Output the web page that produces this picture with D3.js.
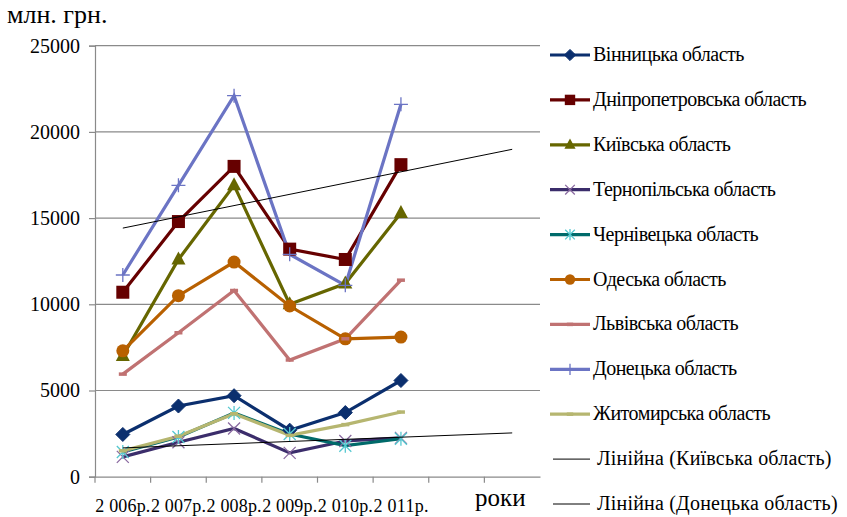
<!DOCTYPE html>
<html><head><meta charset="utf-8">
<script src="https://cdn.jsdelivr.net/npm/d3@7"></script>
</head>
<body style="margin:0;padding:0;background:#fff">
<svg id="c" width="847" height="517" style="display:block"></svg>
<script>
// ---- data ----
const categories = ["2006","2007","2008","2009","2010","2011","f1","f2"];
const xLabels = ["2 006р.","2 007р.","2 008р.","2 009р.","2 010р.","2 011р.","",""];
const yTicks = [0,5000,10000,15000,20000,25000];
const seriesNames = ["Вінницька область","Дніпропетровська область","Київська область","Тернопільська область","Чернівецька область","Одеська область","Львівська область","Донецька область","Житомирська область"];
const vinnytsia      = [2450, 4100, 4700, 2700, 3720, 5580];
const dnipro         = [10700,14800,18000,13200,12600,18100];
const kyiv           = [7000, 12600,16900,10000,11200,15300];
const ternopil       = [1150, 2000, 2800, 1380, 2070, 2250];
const chernivtsi     = [1430, 2300, 3700, 2480, 1800, 2200];
const odesa          = [7300, 10500,12450,9900, 8000, 8100];
const lviv           = [5950, 8350, 10800,6770, 8000, 11400];
const donetsk        = [11700,16900,22100,12900,11100,21600];
const zhytomyr       = [1500, 2350, 3650, 2400, 3020, 3750];
const trendNames = ["Лінійна (Київська область)","Лінійна (Донецька область)"];
const trendKyivEnds = [1670, 2540];      // at first and last category
const trendDonetskEnds = [14420, 18990];

const seriesValues = [vinnytsia,dnipro,kyiv,ternopil,chernivtsi,odesa,lviv,donetsk,zhytomyr];
const styles = [
  {color:"#0b2f6e", marker:"diamond", mc:"#0b2f6e"},
  {color:"#660000", marker:"square", mc:"#660000"},
  {color:"#666600", marker:"triangle", mc:"#666600"},
  {color:"#3b2d6b", marker:"x", mc:"#8a6aa0"},
  {color:"#006a6a", marker:"star", mc:"#55c8d0"},
  {color:"#b86000", marker:"circle", mc:"#b86000"},
  {color:"#c07272", marker:"dash", mc:"#c07272"},
  {color:"#6b74c4", marker:"plus", mc:"#6b74c4"},
  {color:"#b6b670", marker:"dash", mc:"#b6b670"}
];
const FONT = "'Liberation Serif', monospace";
function txt(sel, size){ return sel.attr("font-family","Liberation Serif").style("font-family",FONT).attr("font-size",size); }

// ---- layout ----
const svg = d3.select("#c");
const L = 95, R = 540, T = 45.7, B = 476.7;
const x = d3.scaleBand().domain(categories).range([L,R]);
const cx = c => x(c) + x.bandwidth()/2;
const y = d3.scaleLinear().domain([0,25000]).range([B,T]);

// gridlines
svg.append("g").selectAll("line").data(yTicks.filter(d=>d>0)).join("line")
  .attr("x1",L).attr("x2",R).attr("y1",d=>y(d)).attr("y2",d=>y(d))
  .attr("stroke","#8a8a8a").attr("stroke-width",1.2);

// y axis
const yAxis = d3.axisLeft(y).tickValues(yTicks).tickSize(6).tickFormat(d3.format("d"));
const gy = svg.append("g").attr("transform",`translate(${L},0)`).call(yAxis);
gy.attr("font-family","Liberation Serif").attr("font-size",20);
gy.select(".domain").attr("stroke","#8a8a8a").attr("stroke-width",1.2);
gy.selectAll(".tick line").attr("stroke","#8a8a8a").attr("stroke-width",1.2);
txt(gy.selectAll(".tick text"),20).attr("fill","#000").attr("x",-15);

// x axis
const xAxis = d3.axisBottom(x).tickSize(0).tickFormat(()=>"");
const gx = svg.append("g").attr("transform",`translate(0,${B})`).call(xAxis);
gx.select(".domain").attr("stroke","#8a8a8a").attr("stroke-width",1.2);
const bounds = categories.map(c=>x(c));
svg.append("g").selectAll("line").data(bounds).join("line")
  .attr("x1",d=>d).attr("x2",d=>d).attr("y1",B).attr("y2",B+6)
  .attr("stroke","#8a8a8a").attr("stroke-width",1.2);
txt(svg.append("g").selectAll("text").data(categories.map((c,i)=>({c,l:xLabels[i]})).filter(d=>d.l)).join("text")
  .attr("x",d=>cx(d.c)).attr("y",512).attr("text-anchor","middle"),18)
  .attr("textLength",55).attr("lengthAdjust","spacing").text(d=>d.l);

txt(svg.append("text").attr("x",475).attr("y",506),25).text("роки");
txt(svg.append("text").attr("x",7).attr("y",23),26).text("млн. грн.");

// lines
const line = d3.line().x((d,i)=>cx(categories[i])).y(d=>y(d));
const gS = svg.append("g");
seriesValues.forEach((vals,si)=>{
  gS.append("path").datum(vals).attr("d",line).attr("fill","none")
    .attr("stroke",styles[si].color).attr("stroke-width",3.2).attr("stroke-linejoin","miter");
});

function marker(g, type, px, py, col, s){
  s = s||1;
  switch(type){
    case "diamond": g.append("path").attr("d",`M${px},${py-7*s}L${px+7*s},${py}L${px},${py+7*s}L${px-7*s},${py}Z`).attr("fill",col).attr("stroke",col); break;
    case "square": g.append("rect").attr("x",px-6.5*s).attr("y",py-6.5*s).attr("width",13*s).attr("height",13*s).attr("fill",col); break;
    case "triangle": g.append("path").attr("d",`M${px},${py-8*s}L${px+7*s},${py+5*s}L${px-7*s},${py+5*s}Z`).attr("fill",col); break;
    case "circle": g.append("circle").attr("cx",px).attr("cy",py).attr("r",6.5*s).attr("fill",col); break;
    case "x": g.append("path").attr("d",`M${px-6*s},${py-6*s}L${px+6*s},${py+6*s}M${px-6*s},${py+6*s}L${px+6*s},${py-6*s}`).attr("stroke",col).attr("stroke-width",1.3); break;
    case "star": g.append("path").attr("d",`M${px-6*s},${py-6*s}L${px+6*s},${py+6*s}M${px-6*s},${py+6*s}L${px+6*s},${py-6*s}M${px},${py-7*s}L${px},${py+7*s}`).attr("stroke",col).attr("stroke-width",1.3); break;
    case "plus": g.append("path").attr("d",`M${px-7*s},${py}L${px+7*s},${py}M${px},${py-7*s}L${px},${py+7*s}`).attr("stroke",col).attr("stroke-width",1.3); break;
    case "dash": g.append("path").attr("d",`M${px-4*s},${py}L${px+4*s},${py}`).attr("stroke",col).attr("stroke-width",3.5); break;
  }
}
const gM = svg.append("g");
seriesValues.forEach((vals,si)=>{
  vals.forEach((v,i)=>marker(gM, styles[si].marker, cx(categories[i]), y(v), styles[si].mc));
});

// trendlines
const trendLine = ends => [[cx(categories[0]), y(ends[0])],[cx(categories[categories.length-1]), y(ends[1])]];
[trendKyivEnds, trendDonetskEnds].forEach(e=>{
  svg.append("path").attr("d",d3.line()(trendLine(e))).attr("stroke","#000").attr("stroke-width",1).attr("fill","none");
});

// legend
const legY0 = 55, legDy = 44.9;
const lg = svg.append("g");
seriesNames.forEach((n,i)=>{
  const yy = legY0 + i*legDy;
  lg.append("line").attr("x1",550).attr("x2",590).attr("y1",yy).attr("y2",yy).attr("stroke",styles[i].color).attr("stroke-width",3.2);
  marker(lg, styles[i].marker, 570, yy, styles[i].mc, 0.8);
  txt(lg.append("text").attr("x",593).attr("y",yy+6),20).attr("letter-spacing",-0.5).text(n);
});
trendNames.forEach((n,j)=>{
  const yy = legY0 + (seriesNames.length+j)*legDy;
  lg.append("line").attr("x1",553).attr("x2",590).attr("y1",yy).attr("y2",yy).attr("stroke","#000").attr("stroke-width",1);
  txt(lg.append("text").attr("x",597).attr("y",yy+6),20).attr("letter-spacing",0.2).text(n);
});
</script>
</body></html>
